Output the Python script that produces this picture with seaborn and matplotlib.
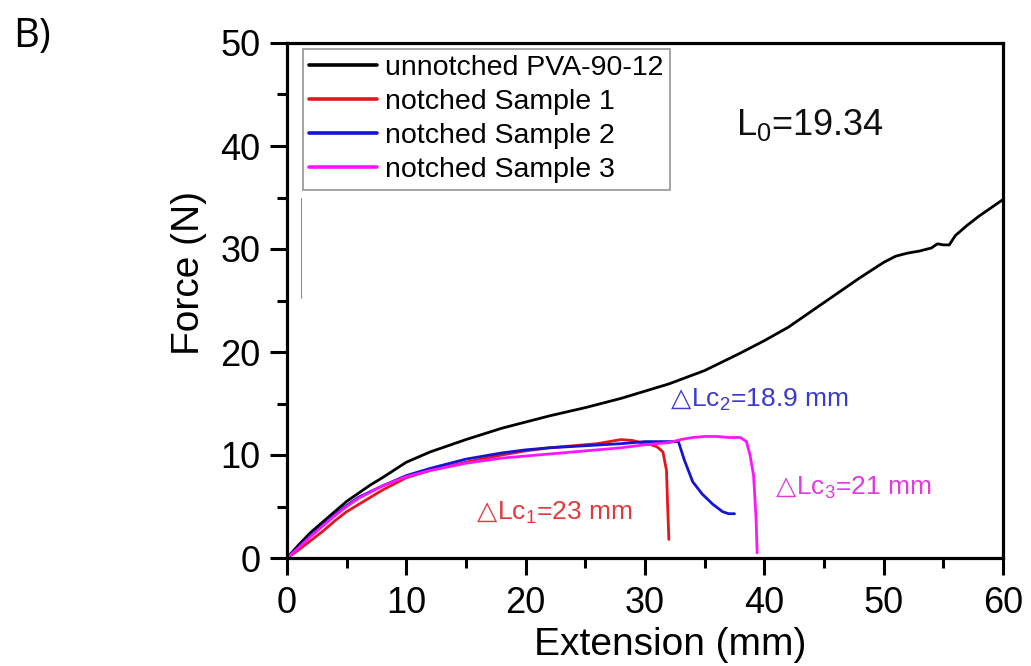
import numpy as np
import pandas as pd
import matplotlib
matplotlib.use("Agg")
import matplotlib.pyplot as plt
import seaborn as sns

# ---- data ----
unnotched_x = [0, 1, 2, 3, 4, 5, 6, 7, 8, 10, 12, 15, 18, 20, 22, 25, 28, 30, 32, 35, 38, 40, 42,
               45, 48, 50, 51, 52, 53, 54, 54.5, 55, 55.5, 56, 57, 58, 59, 60]
unnotched_y = [0, 1.3, 2.5, 3.5, 4.5, 5.5, 6.3, 7.1, 7.8, 9.3, 10.3, 11.5, 12.6, 13.2, 13.8, 14.6,
               15.5, 16.2, 16.9, 18.2, 19.9, 21.1, 22.4, 24.8, 27.2, 28.7, 29.3, 29.6, 29.8, 30.1,
               30.5, 30.4, 30.4, 31.3, 32.3, 33.2, 34.0, 34.8]

s1_x = [0, 1, 2, 3, 4, 5, 6, 8, 10, 12, 15, 18, 20, 22, 24, 26, 28, 29, 30, 30.5, 31, 31.5,
        31.8, 31.9, 32.0]
s1_y = [0, 0.8, 1.7, 2.6, 3.6, 4.5, 5.2, 6.6, 7.8, 8.5, 9.3, 10.0, 10.4, 10.7, 10.9, 11.1, 11.5,
        11.4, 11.1, 11.0, 10.8, 10.3, 8.5, 5.0, 1.8]

s2_x = [0, 1, 2, 3, 4, 5, 6, 8, 10, 12, 15, 18, 20, 22, 25, 28, 30, 32, 32.8, 33.3, 34, 34.8,
        35.7, 36.5, 37, 37.5]
s2_y = [0, 1.1, 2.2, 3.2, 4.2, 5.1, 5.9, 7.0, 8.0, 8.7, 9.6, 10.2, 10.5, 10.7, 10.9, 11.1, 11.3,
        11.3, 11.3, 9.5, 7.4, 6.2, 5.2, 4.5, 4.3, 4.3]

s3_x = [0, 1, 2, 3, 4, 5, 6, 8, 10, 12, 15, 18, 20, 22, 25, 28, 30, 32, 33, 34, 35, 36, 37, 38,
        38.5, 38.8, 39.1, 39.3, 39.4]
s3_y = [0, 1.0, 2.1, 3.1, 4.1, 5.0, 5.8, 7.0, 7.9, 8.5, 9.2, 9.7, 9.9, 10.1, 10.4, 10.7, 11.0,
        11.2, 11.5, 11.7, 11.8, 11.8, 11.7, 11.7, 11.3, 10.0, 8.0, 4.0, 0.5]

series_names = ["unnotched PVA-90-12", "notched Sample 1", "notched Sample 2", "notched Sample 3"]
series_colors = ["#000000", "#e8141c", "#1414d2", "#ff14ff"]

annot_texts = [r"$\mathrm{\triangle}\!$Lc$_1$=23 mm",
               r"$\mathrm{\triangle}\!$Lc$_2$=18.9 mm",
               r"$\mathrm{\triangle}\!$Lc$_3$=21 mm"]
annot_x = [15.4, 31.7, 40.5]
annot_y = [3.7, 14.65, 6.1]
annot_colors = ["#e03a3a", "#3a3ad0", "#e03ae0"]

xticks = [0, 10, 20, 30, 40, 50, 60]
yticks = [0, 10, 20, 30, 40, 50]

# ---- build table ----
frames = []
for name, xs, ys in zip(series_names, [unnotched_x, s1_x, s2_x, s3_x],
                        [unnotched_y, s1_y, s2_y, s3_y]):
    frames.append(pd.DataFrame({"Extension": xs, "Force": ys, "series": name}))
df = pd.concat(frames, ignore_index=True)

sns.set_theme(style="white")
plt.rcParams["font.family"] = ["Liberation Sans", "DejaVu Sans"]
plt.rcParams["mathtext.default"] = "regular"
for k in ["text.color", "axes.labelcolor", "xtick.color", "ytick.color"]:
    plt.rcParams[k] = "black"

fig = plt.figure(figsize=(10.31, 6.66), dpi=100)
ax = fig.add_axes([287 / 1031, 1 - 558 / 666, (1003 - 287) / 1031, (558 - 43) / 666])

sns.lineplot(data=df, x="Extension", y="Force", hue="series", hue_order=series_names,
             palette=series_colors, sort=False, estimator=None, units="series",
             linewidth=2.0, ax=ax, legend=True)

# thin artifact line near the left edge
ax.plot([1.15, 1.15], [25.2, 35.0], color="#909090", linewidth=0.8)

ax.set_xlim(0, 60)
ax.set_ylim(0, 50)
ax.set_xticks(xticks)
ax.set_yticks(yticks)
ax.set_xticks(np.arange(5, 60, 10), minor=True)
ax.set_yticks(np.arange(5, 50, 10), minor=True)
ax.tick_params(axis="both", which="major", direction="out", length=12, width=2.2,
               labelsize=26, color="black", bottom=True, left=True)
ax.tick_params(axis="x", which="major", pad=8)
ax.tick_params(axis="y", which="major", pad=7)
ax.tick_params(axis="both", which="minor", direction="out", length=7, width=2.2,
               color="black", bottom=True, left=True)
for sp in ax.spines.values():
    sp.set_visible(True)
    sp.set_color("black")
    sp.set_linewidth(2.3)

ax.set_xlabel("Extension (mm)", fontsize=28)
ax.set_ylabel("Force (N)", fontsize=28)
ax.xaxis.set_label_coords(0.535, -0.134)
ax.yaxis.set_label_coords(-0.112, 0.553)

leg = ax.legend(loc="upper left", bbox_to_anchor=(0.022, 0.988), borderaxespad=0,
                fontsize=20.5, frameon=True, fancybox=False, edgecolor="#7a7a7a",
                handlelength=2.4, handletextpad=0.27, labelspacing=0.28, borderpad=0.22)
leg.get_frame().set_linewidth(1.2)
for line in leg.get_lines():
    line.set_linewidth(2.6)

ax.text(37.6, 42.0, "L$_0$=19.34", fontsize=26, ha="left", va="center", color="#111111")

for t, x, y, c in zip(annot_texts, annot_x, annot_y, annot_colors):
    ax.text(x, y, t, fontsize=19, color=c, ha="left", va="baseline")

fig.text(0.013, 0.945, "B)", fontsize=29, ha="left", va="center",
         family=["Open Sans", "DejaVu Sans"])

fig.savefig("out.png", dpi=100)
